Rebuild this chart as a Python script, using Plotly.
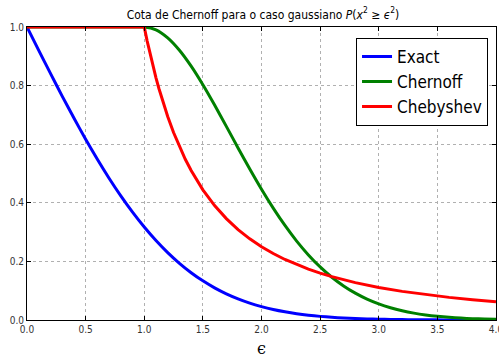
import plotly.graph_objects as go

eps = [0.0, 0.1, 0.2, 0.3, 0.4, 0.5, 0.6, 0.7, 0.8, 0.9,
       1.0, 1.1, 1.2, 1.3, 1.4, 1.5, 1.6, 1.7, 1.8, 1.9,
       2.0, 2.1, 2.2, 2.3, 2.4, 2.5, 2.6, 2.7, 2.8, 2.9,
       3.0, 3.1, 3.2, 3.3, 3.4, 3.5, 3.6, 3.7, 3.8, 3.9, 4.0]

exact = [1.0, 0.9203, 0.8415, 0.7642, 0.6892, 0.6171, 0.5485, 0.4839, 0.4237, 0.3681,
         0.3173, 0.2713, 0.2301, 0.1936, 0.1615, 0.1336, 0.1096, 0.0891, 0.0719, 0.0574,
         0.0455, 0.0357, 0.0278, 0.0214, 0.0164, 0.0124, 0.0093, 0.0069, 0.0051, 0.0037,
         0.0027, 0.0019, 0.0014, 0.0010, 0.0007, 0.0005, 0.0003, 0.0002, 0.0001, 0.0001, 0.0001]

chernoff = [1.0, 1.0, 1.0, 1.0, 1.0, 1.0, 1.0, 1.0, 1.0, 1.0,
            1.0, 0.9903, 0.9630, 0.9207, 0.8663, 0.8029, 0.7335, 0.6608, 0.5873, 0.5153,
            0.4463, 0.3818, 0.3226, 0.2693, 0.2222, 0.1811, 0.1459, 0.1163, 0.0916, 0.0713,
            0.0549, 0.0418, 0.0315, 0.0235, 0.0173, 0.0126, 0.0091, 0.0065, 0.0046, 0.0032, 0.0022]

eps_cheb = [0.0, 1.0, 1.025, 1.05, 1.075, 1.1, 1.125, 1.15, 1.175, 1.2, 1.25, 1.3, 1.35,
            1.4, 1.45, 1.5, 1.6, 1.7, 1.8, 1.9, 2.0, 2.1, 2.2, 2.3, 2.4, 2.5, 2.6, 2.8,
            3.0, 3.2, 3.4, 3.6, 3.8, 4.0]
chebyshev = [1.0, 1.0, 0.9518, 0.9070, 0.8653, 0.8264, 0.7901, 0.7561, 0.7243, 0.6944,
             0.6400, 0.5917, 0.5487, 0.5102, 0.4756, 0.4444, 0.3906, 0.3460, 0.3086,
             0.2770, 0.2500, 0.2268, 0.2066, 0.1890, 0.1736, 0.1600, 0.1479, 0.1276,
             0.1111, 0.0977, 0.0865, 0.0772, 0.0693, 0.0625]

names = ["Exact", "Chernoff", "Chebyshev"]
colors = ["#0000ff", "#008000", "#ff0000"]
tick_vals_x = [0.0, 0.5, 1.0, 1.5, 2.0, 2.5, 3.0, 3.5, 4.0]
tick_vals_y = [0.0, 0.2, 0.4, 0.6, 0.8, 1.0]

fig = go.Figure()
fig.add_trace(go.Scatter(x=eps, y=exact, mode="lines", name=names[0],
                         line=dict(color=colors[0], width=3, shape="spline", smoothing=0.6)))
fig.add_trace(go.Scatter(x=eps, y=chernoff, mode="lines", name=names[1],
                         line=dict(color=colors[1], width=3, shape="spline", smoothing=0.6)))
fig.add_trace(go.Scatter(x=eps_cheb, y=chebyshev, mode="lines", name=names[2],
                         line=dict(color=colors[2], width=3, shape="linear")))

tick_font = dict(size=10, color="#333333",
                 family="DejaVu Sans Condensed, DejaVu Sans, sans-serif")
axis_common = dict(showline=True, linecolor="black", linewidth=1, mirror="allticks",
                   ticks="inside", ticklen=4, tickcolor="black",
                   showgrid=True, gridcolor="#b0b0b0", griddash="dot", gridwidth=1,
                   zeroline=False, tickfont=tick_font, ticklabeloverflow="allow",
                   automargin=False)

fig.update_xaxes(range=[0, 4], tickvals=tick_vals_x,
                 ticktext=[f"{v:.1f}" for v in tick_vals_x],
                 title=dict(text="ϵ", font=dict(size=16, color="black",
                                                family="DejaVu Serif, serif"), standoff=14),
                 **axis_common)
fig.update_yaxes(range=[0, 1], tickvals=tick_vals_y,
                 ticktext=[f"{v:.1f}" for v in tick_vals_y], **axis_common)

fig.update_layout(
    width=499, height=358,
    margin=dict(l=27, r=3, t=27, b=38),
    paper_bgcolor="white", plot_bgcolor="white",
    title=dict(text="Cota de Chernoff para o caso gaussiano <i>P</i>(<i>x</i><sup>2</sup> ≥ <i>ϵ</i><sup>2</sup>)",
               x=0.527, xanchor="center", y=0.96, yanchor="middle",
               font=dict(size=12, color="black",
                         family="DejaVu Sans Condensed, DejaVu Sans, sans-serif")),
    legend=dict(x=0.983, y=0.963, xanchor="right", yanchor="top",
                bgcolor="white", bordercolor="black", borderwidth=1,
                font=dict(size=17, color="black",
                          family="DejaVu Sans Condensed, DejaVu Sans, sans-serif"),
                tracegroupgap=0, itemwidth=30),
    showlegend=True,
)

fig.write_html("out.html")
